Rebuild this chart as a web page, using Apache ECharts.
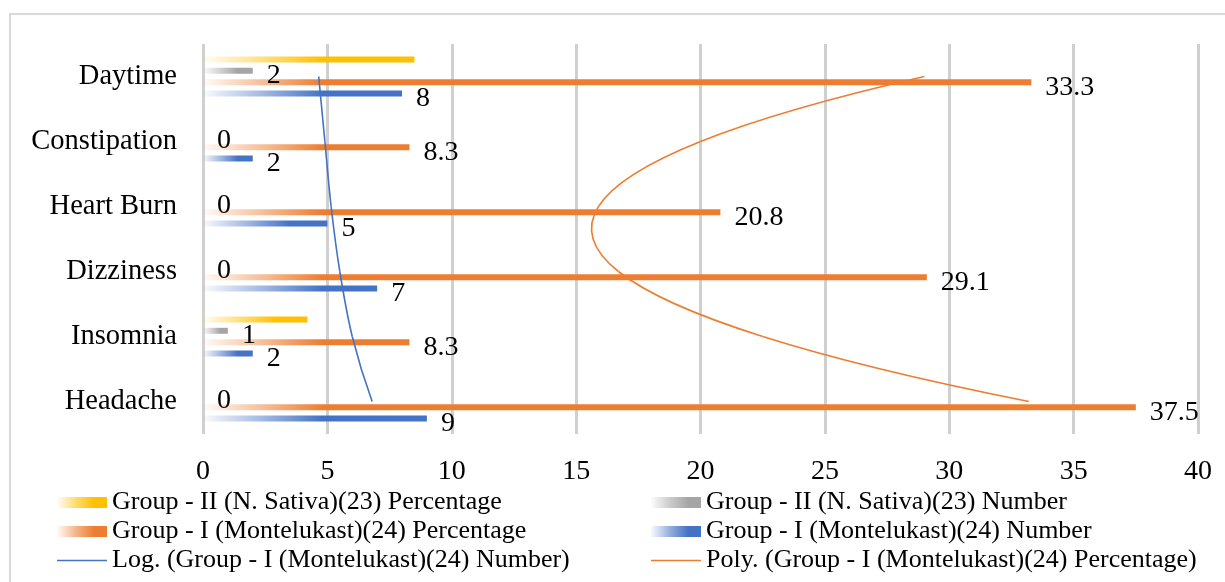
<!DOCTYPE html>
<html>
<head>
<meta charset="utf-8">
<script src="https://cdn.jsdelivr.net/npm/echarts@6/dist/echarts.min.js"></script>
<style>
html,body{margin:0;padding:0;background:#fff;}
#chart{width:1225px;height:582px;}
</style>
</head>
<body>
<div id="chart"></div>
<script>
// ---- data ----
const categories = ['Headache', 'Insomnia', 'Dizziness', 'Heart Burn', 'Constipation', 'Daytime'];
const g2Percentage = [0, 4.2, 0, 0, 0, 8.5];
const g2Number = [0, 1, 0, 0, 0, 2];
const g1Percentage = [37.5, 8.3, 29.1, 20.8, 8.3, 33.3];
const g1Number = [9, 2, 7, 5, 2, 8];
const logTrend = [6.8, 6.0, 5.5, 5.15, 4.9, 4.65];
const polyTrend = [33.2, 22.5, 16.7, 15.9, 20.0, 29.0];
const xMin = 0, xMax = 40, xInterval = 5;

const names = {
  g2p: 'Group - II (N. Sativa)(23) Percentage',
  g2n: 'Group - II (N. Sativa)(23) Number',
  g1p: 'Group - I (Montelukast)(24) Percentage',
  g1n: 'Group - I (Montelukast)(24) Number',
  log: 'Log. (Group - I (Montelukast)(24) Number)',
  poly: 'Poly. (Group - I (Montelukast)(24) Percentage)'
};

const RGB = { yellow: '255,192,0', gray: '165,165,165', orange: '237,125,49', blue: '68,114,196' };
const FONT = "'Liberation Serif','Times New Roman',serif";
const PX_PER_UNIT = 24.87;

function fade(rgb, value) {
  const len = value * PX_PER_UNIT;
  const f = len > 0 ? Math.min(0.7, 120 / len) : 0.7;
  return new echarts.graphic.LinearGradient(0, 0, 1, 0, [
    { offset: 0, color: 'rgba(' + rgb + ',0.03)' },
    { offset: f * 0.5, color: 'rgba(' + rgb + ',0.5)' },
    { offset: f, color: 'rgba(' + rgb + ',1)' },
    { offset: 1, color: 'rgba(' + rgb + ',1)' }
  ]);
}
function legendFade(rgb) {
  return new echarts.graphic.LinearGradient(0, 0, 1, 0, [
    { offset: 0, color: 'rgba(' + rgb + ',0.03)' },
    { offset: 0.4, color: 'rgba(' + rgb + ',0.6)' },
    { offset: 0.75, color: 'rgba(' + rgb + ',1)' },
    { offset: 1, color: 'rgba(' + rgb + ',1)' }
  ]);
}

const labelStyle = {
  show: true,
  position: 'right',
  distance: 14,
  offset: [0, 5],
  color: '#000',
  fontFamily: FONT,
  fontSize: 28
};

function barSeries(name, data, rgb, showLabel) {
  return {
    name: name,
    type: 'bar',
    data: data,
    barWidth: 6,
    barGap: '90%',
    barCategoryGap: '38%',
    itemStyle: { color: function (p) { return fade(rgb, p.value); } },
    label: showLabel ? labelStyle : { show: false },
    z: 2
  };
}

// smooth trend curve through the points (Catmull-Rom style), drawn via the axes' own coords
function trendSeries(name, values, color) {
  return {
    name: name,
    type: 'custom',
    data: values.map(function (v, i) { return [v, i]; }),
    encode: { x: 0, y: 1 },
    itemStyle: { color: color },
    z: 5,
    silent: true,
    renderItem: function (params, api) {
      const i = params.dataIndex;
      const n = values.length;
      if (i >= n - 1) return null;
      const P = values.map(function (v, k) { return api.coord([v, k]); });
      function tangent(k) {
        if (k === 0) return [(-3 * P[0][0] + 4 * P[1][0] - P[2][0]) / 2, (-3 * P[0][1] + 4 * P[1][1] - P[2][1]) / 2];
        if (k === n - 1) return [(3 * P[n - 1][0] - 4 * P[n - 2][0] + P[n - 3][0]) / 2, (3 * P[n - 1][1] - 4 * P[n - 2][1] + P[n - 3][1]) / 2];
        return [(P[k + 1][0] - P[k - 1][0]) / 2, (P[k + 1][1] - P[k - 1][1]) / 2];
      }
      const m0 = tangent(i), m1 = tangent(i + 1);
      return {
        type: 'bezierCurve',
        shape: {
          x1: P[i][0], y1: P[i][1],
          x2: P[i + 1][0], y2: P[i + 1][1],
          cpx1: P[i][0] + m0[0] / 3, cpy1: P[i][1] + m0[1] / 3,
          cpx2: P[i + 1][0] - m1[0] / 3, cpy2: P[i + 1][1] - m1[1] / 3
        },
        style: { stroke: color, lineWidth: 1.6, fill: null }
      };
    }
  };
}

const chart = echarts.init(document.getElementById('chart'), null, { renderer: 'canvas' });

const legendText = { color: '#000', fontFamily: FONT, fontSize: 26, lineHeight: 29 };
function legendItem(left, top, name, color, isLine) {
  return {
    orient: 'horizontal',
    left: left, top: top,
    itemWidth: 50, itemHeight: isLine ? 1.6 : 11,
    textStyle: legendText,
    selectedMode: false,
    data: [{ name: name, icon: 'rect', itemStyle: { color: color } }]
  };
}

chart.setOption({
  animation: false,
  backgroundColor: '#fff',
  graphic: [{
    type: 'rect',
    shape: { x: 10, y: 14, width: 1400, height: 800 },
    style: { fill: 'none', stroke: '#d9d9d9', lineWidth: 2 },
    silent: true
  }],
  grid: { left: 203, right: 27, top: 44, bottom: 148 },
  xAxis: {
    type: 'value',
    min: xMin, max: xMax, interval: xInterval,
    axisLine: { show: false },
    axisTick: { show: false },
    splitLine: { show: true, lineStyle: { color: '#d0d0d0', width: 3 } },
    axisLabel: { color: '#000', fontFamily: FONT, fontSize: 28, margin: 24 }
  },
  yAxis: {
    type: 'category',
    data: categories,
    axisLine: { show: false },
    axisTick: { show: false },
    splitLine: { show: false },
    axisLabel: { color: '#000', fontFamily: FONT, fontSize: 28.5, margin: 26, padding: [10, 0, 0, 0] }
  },
  legend: [
    legendItem(52, 483, names.g2p, legendFade(RGB.yellow), false),
    legendItem(52, 512, names.g1p, legendFade(RGB.orange), false),
    legendItem(52, 541, names.log, 'rgb(68,114,196)', true),
    legendItem(646, 483, names.g2n, legendFade(RGB.gray), false),
    legendItem(646, 512, names.g1n, legendFade(RGB.blue), false),
    legendItem(646, 541, names.poly, 'rgb(237,125,49)', true)
  ],
  series: [
    barSeries(names.g2p, g2Percentage, RGB.yellow, false),
    barSeries(names.g2n, g2Number, RGB.gray, true),
    barSeries(names.g1p, g1Percentage, RGB.orange, true),
    barSeries(names.g1n, g1Number, RGB.blue, true),
    trendSeries(names.log, logTrend, 'rgb(68,114,196)'),
    trendSeries(names.poly, polyTrend, 'rgb(237,125,49)')
  ]
});
</script>
</body>
</html>
